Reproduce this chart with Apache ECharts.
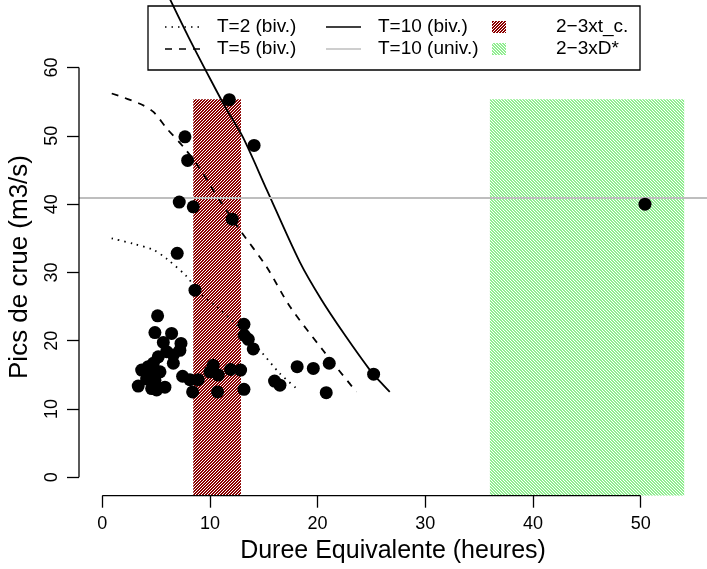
<!DOCTYPE html>
<html>
<head>
<meta charset="utf-8">
<script src="https://cdn.jsdelivr.net/npm/echarts@6/dist/echarts.min.js"></script>
<style>html,body{margin:0;padding:0;background:#fff}#c{width:707px;height:569px}</style>
</head>
<body>
<div id="c"></div>
<script>
// ---- data ----
const xTicks = [0, 10, 20, 30, 40, 50];
const yTicks = [0, 10, 20, 30, 40, 50, 60];
const xRange = [-2.16, 56.16];
const yRange = [-2.688, 69.888];

const obsX = [5.14,4.89,6.44,5.67,7.31,7.21,5.98,5.2,6.6,6.6,4.74,4.27,3.66,5.36,4.59,4.12,4.89,3.34,4.59,5.05,5.82,7.46,8.14,8.91,8.39,10.3,10.0,10.77,11.92,12.85,10.71,13.16,13.16,13.19,13.56,14.02,16.0,16.5,18.1,19.6,21.08,20.8,25.2,50.4,11.8,7.68,14.1,7.93,7.15,8.45,12.07,6.96,8.61];
const obsY = [23.65,21.2,21.07,19.75,19.6,18.6,18.4,17.65,17.9,16.7,16.7,16.2,15.7,15.45,15.45,14.4,14.2,13.36,13.0,12.8,13.2,14.8,14.3,14.3,12.5,16.4,15.45,14.97,15.8,15.7,12.5,12.88,22.4,20.8,20.2,18.8,14.1,13.5,16.2,15.95,16.7,12.4,15.1,40.0,55.3,49.85,48.6,46.4,40.3,39.6,37.8,32.8,27.4];

const t2X = [0.87,2.88,4.74,5.98,7.84,9.07,10.62,12.48,14.64,16.5,18.2];
const t2Y = [35.0,34.2,33.3,32.0,29.4,26.9,25.0,22.3,18.6,15.2,12.8];
const t5X = [0.88,3.5,4.75,5.98,7.52,9.07,10.6,12.79,15.27,17.43,20.5,23.6];
const t5Y = [56.2,54.7,53.5,51.1,48.4,45.2,41.3,36.2,30.8,25.0,18.6,12.5];
const t10X = [6.2,8.0,10.09,11.5,13.06,15.29,18.35,20.37,22.5,24.86,25.8,26.7];
const t10Y = [70.3,64.5,58.14,54.0,49.8,42.05,31.5,25.96,20.9,15.7,14.0,12.5];
const t10Univ = 40.9;

const bandNames = ['2\u22123xt_c.', '2\u22123xD*'];
const bandX0 = [8.45, 36.0];
const bandX1 = [12.88, 54.04];
const bandTop = [55.36, 55.36];

const legendLabels = ['T=2 (biv.)', 'T=5 (biv.)', 'T=10 (biv.)', 'T=10 (univ.)'];
const xTitle = 'Duree Equivalente (heures)';
const yTitle = 'Pics de crue (m3/s)';

// ---- helpers ----
function hatch(rgb, dir) {
  const n = 3;
  const c = document.createElement('canvas');
  c.width = n; c.height = n;
  const ctx = c.getContext('2d');
  const img = ctx.createImageData(n, n);
  for (let j = 0; j < n; j++) for (let i = 0; i < n; i++) {
    const k = dir > 0 ? (i + j) % n : ((i - j) % n + n) % n;
    const p = (j * n + i) * 4;
    const white = k === 2;
    img.data[p] = white ? 255 : rgb[0];
    img.data[p+1] = white ? 255 : rgb[1];
    img.data[p+2] = white ? 255 : rgb[2];
    img.data[p+3] = 255;
  }
  ctx.putImageData(img, 0, 0);
  return c;
}
const patRed = { image: hatch([139, 0, 0], 1), repeat: 'repeat' };
const patGreen = { image: hatch([144, 238, 144], -1), repeat: 'repeat' };
const patterns = [patRed, patGreen];

const zip = (a, b) => a.map((v, i) => [v, b[i]]);
const FONT = 'Liberation Sans, Arial, Helvetica, sans-serif';
const LF = '19px ' + FONT;

const chart = echarts.init(document.getElementById('c'), null, { renderer: 'canvas' });

const legX = 148, legY = 6, legW = 492, legH = 64;
const row1 = 27, row2 = 49;

const graphics = [
  { type: 'rect', shape: { x: legX, y: legY, width: legW, height: legH }, style: { fill: null, stroke: '#000', lineWidth: 1.3 }, z: 100 },
  { type: 'line', shape: { x1: 165, y1: row1, x2: 200, y2: row1 }, style: { stroke: '#000', lineWidth: 1.6, lineDash: [1.5, 5] }, z: 100 },
  { type: 'line', shape: { x1: 165, y1: row2, x2: 200, y2: row2 }, style: { stroke: '#000', lineWidth: 1.6, lineDash: [7, 7] }, z: 100 },
  { type: 'line', shape: { x1: 326, y1: row1, x2: 361, y2: row1 }, style: { stroke: '#000', lineWidth: 1.6 }, z: 100 },
  { type: 'line', shape: { x1: 326, y1: row2, x2: 361, y2: row2 }, style: { stroke: '#BEBEBE', lineWidth: 1.6 }, z: 100 },
  { type: 'rect', shape: { x: 492, y: row1 - 6, width: 14, height: 12 }, style: { fill: patRed }, z: 100 },
  { type: 'rect', shape: { x: 492, y: row2 - 6, width: 14, height: 12 }, style: { fill: patGreen }, z: 100 },
  { type: 'text', x: 217, y: row1, style: { text: legendLabels[0], fill: '#000', font: LF, verticalAlign: 'middle' }, z: 100 },
  { type: 'text', x: 217, y: row2, style: { text: legendLabels[1], fill: '#000', font: LF, verticalAlign: 'middle' }, z: 100 },
  { type: 'text', x: 378, y: row1, style: { text: legendLabels[2], fill: '#000', font: LF, verticalAlign: 'middle' }, z: 100 },
  { type: 'text', x: 378, y: row2, style: { text: legendLabels[3], fill: '#000', font: LF, verticalAlign: 'middle' }, z: 100 },
  { type: 'text', x: 556, y: row1, style: { text: bandNames[0], fill: '#000', font: LF, verticalAlign: 'middle' }, z: 100 },
  { type: 'text', x: 556, y: row2, style: { text: bandNames[1], fill: '#000', font: LF, verticalAlign: 'middle' }, z: 100 },
  // y-axis title, centred on the R plot region (which starts below the legend)
  { type: 'text', x: 20, y: 267, rotation: Math.PI / 2, style: { text: yTitle, fill: '#000', font: '26px ' + FONT, align: 'center', verticalAlign: 'middle' }, z: 100 }
];

const option = {
  animation: false,
  backgroundColor: '#fff',
  grid: { left: 79, right: 0, top: 0, bottom: 73.3 },
  xAxis: {
    type: 'value', min: xRange[0], max: xRange[1],
    axisLine: { show: false, onZero: false }, splitLine: { show: false },
    axisTick: { show: true, customValues: xTicks, length: 12, lineStyle: { color: '#000', width: 1.3 } },
    axisLabel: { customValues: xTicks, fontSize: 18, color: '#000', margin: 19, fontFamily: FONT },
    name: xTitle, nameLocation: 'middle', nameGap: 43,
    nameTextStyle: { fontSize: 25, color: '#000', fontFamily: FONT }
  },
  yAxis: {
    type: 'value', min: yRange[0], max: yRange[1],
    axisLine: { show: false, onZero: false }, splitLine: { show: false },
    axisTick: { show: true, customValues: yTicks, length: 12, lineStyle: { color: '#000', width: 1.3 } },
    axisLabel: { customValues: yTicks, fontSize: 18, color: '#000', margin: 18, rotate: 90, fontFamily: FONT }
  },
  graphic: graphics,
  series: [
    {
      type: 'custom', z: 1, clip: true,
      data: bandX0.map((x0, i) => [x0, bandX1[i], bandTop[i], yRange[0]]),
      encode: { x: [0, 1], y: [2, 3] },
      renderItem: function (params, api) {
        const p0 = api.coord([api.value(0), api.value(2)]);
        const p1 = api.coord([api.value(1), api.value(3)]);
        return { type: 'rect', shape: { x: p0[0], y: p0[1], width: p1[0] - p0[0], height: p1[1] - p0[1] }, style: { fill: patterns[params.dataIndex] } };
      }
    },
    { name: legendLabels[0], type: 'line', z: 3, data: zip(t2X, t2Y), showSymbol: false, smooth: 0.3, lineStyle: { color: '#000', width: 1.8, type: [1.5, 5] } },
    { name: legendLabels[1], type: 'line', z: 3, data: zip(t5X, t5Y), showSymbol: false, smooth: 0.3, lineStyle: { color: '#000', width: 1.8, type: [7, 7] } },
    { name: legendLabels[2], type: 'line', z: 3, data: zip(t10X, t10Y), showSymbol: false, smooth: 0.3, clip: true, lineStyle: { color: '#000', width: 1.8 } },
    {
      name: legendLabels[3], type: 'line', z: 4, data: [],
      markLine: { silent: true, symbol: 'none', label: { show: false }, lineStyle: { color: '#BEBEBE', width: 2, type: 'solid' }, data: [{ yAxis: t10Univ }] }
    },
    // axis lines spanning only the tick range
    { type: 'line', z: 5, clip: false, showSymbol: false, silent: true, data: [[xTicks[0], yRange[0]], [xTicks[xTicks.length - 1], yRange[0]]], lineStyle: { color: '#000', width: 1.3 } },
    { type: 'line', z: 5, clip: false, showSymbol: false, silent: true, data: [[xRange[0], yTicks[0]], [xRange[0], yTicks[yTicks.length - 1]]], lineStyle: { color: '#000', width: 1.3 } },
    { type: 'scatter', z: 6, data: zip(obsX, obsY), symbol: 'circle', symbolSize: 13, itemStyle: { color: '#000', opacity: 1 } }
  ]
};
chart.setOption(option);
</script>
</body>
</html>
